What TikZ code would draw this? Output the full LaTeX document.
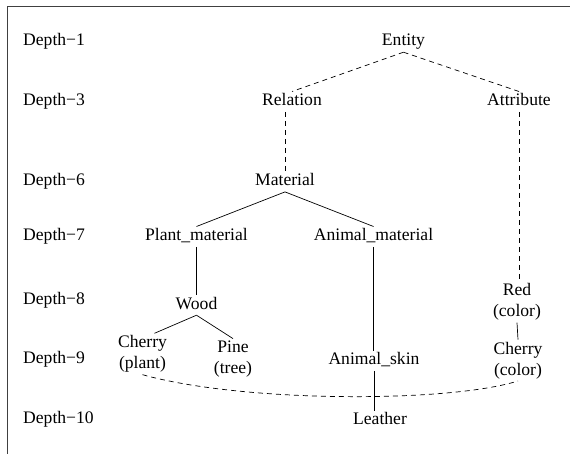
\documentclass[tikz,border=0pt]{standalone}
\usepackage{fontspec}
\setmainfont{Liberation Serif}
\usepackage{tikz}
\usetikzlibrary{calc}

\begin{document}
\begin{tikzpicture}[
    x=1pt, y=-1pt,
    font=\fontsize{17.6pt}{21pt}\selectfont,
    word/.style={inner sep=2pt,text height=12pt,text depth=4pt},
    twoline/.style={inner sep=2pt,align=center},
    lvl/.style={word,anchor=west},
    isa/.style={line width=0.7pt},
    loose/.style={line width=0.7pt,dash pattern=on 5pt off 4pt}
  ]
  \useasboundingbox (0,0) rectangle (570,454);

  % frame
  \draw[line width=1pt,black!75] (7,454) -- (7,7) -- (570,7);

  % depth scale
  \node[lvl] (dl1)  at (21,42)    {Depth−1};
  \node[lvl] (dl3)  at (21,101.7) {Depth−3};
  \node[lvl] (dl6)  at (21,181.7) {Depth−6};
  \node[lvl] (dl7)  at (21,237)   {Depth−7};
  \node[lvl] (dl8)  at (21,301)   {Depth−8};
  \node[lvl] (dl9)  at (21,359.5) {Depth−9};
  \node[lvl] (dl10) at (21,419)   {Depth−10};

  % concepts
  \node[word] (hEnt)   at (403.5,42)    {Entity};
  \node[word] (hRel)   at (292,101.7)   {Relation};
  \node[word] (hAtt)   at (519,101.7)   {Attribute};
  \node[word] (hMat)   at (285,181.7)   {Material};
  \node[word] (hPlant) at (196.5,236.7) {Plant\_material};
  \node[word] (hAnim)  at (373.5,236.7) {Animal\_material};
  \node[word] (hWood)  at (196.5,305)   {Wood};
  \node[twoline] (hRed)   at (517,302)   {Red\\(color)};
  \node[twoline] (hCherP) at (142.5,354) {Cherry\\(plant)};
  \node[twoline] (hPine)  at (233,359)   {Pine\\(tree)};
  \node[word] (hSkin)  at (374,360.7)   {Animal\_skin};
  \node[twoline] (hCherC) at (518,360.3) {Cherry\\(color)};
  \node[word] (hLeath) at (380,420.7)   {Leather};

  % upper levels
  \draw[loose] (hEnt.south) -- (hRel.north);
  \draw[loose] (hEnt.south) -- (hAtt.north);
  \draw[loose] (hMat.north |- hRel.south) -- (hMat.north);
  \draw[loose] (hAtt.south) -- (hAtt.south |- hRed.north);

  % material branch
  \draw[isa] (hMat.south) -- (hPlant.north);
  \draw[isa] (hMat.south) -- (hAnim.north);
  \draw[isa] (hPlant.south) -- (hWood.north);
  \draw[isa] (hWood.south) -- (hCherP.60);
  \draw[isa] (hWood.south) -- (hPine.north);
  \draw[isa] (hAnim.south) -- (hAnim.south |- hSkin.north);
  \draw[isa] (hSkin.south) -- (hSkin.south |- hLeath.north);
  \draw[isa] (hRed.south) -- (hCherC.north);

  % cherry link
  \draw[loose] (hCherP.south) .. controls +(100,28) and +(-70,22) .. (hCherC.south);

\end{tikzpicture}
\end{document}
